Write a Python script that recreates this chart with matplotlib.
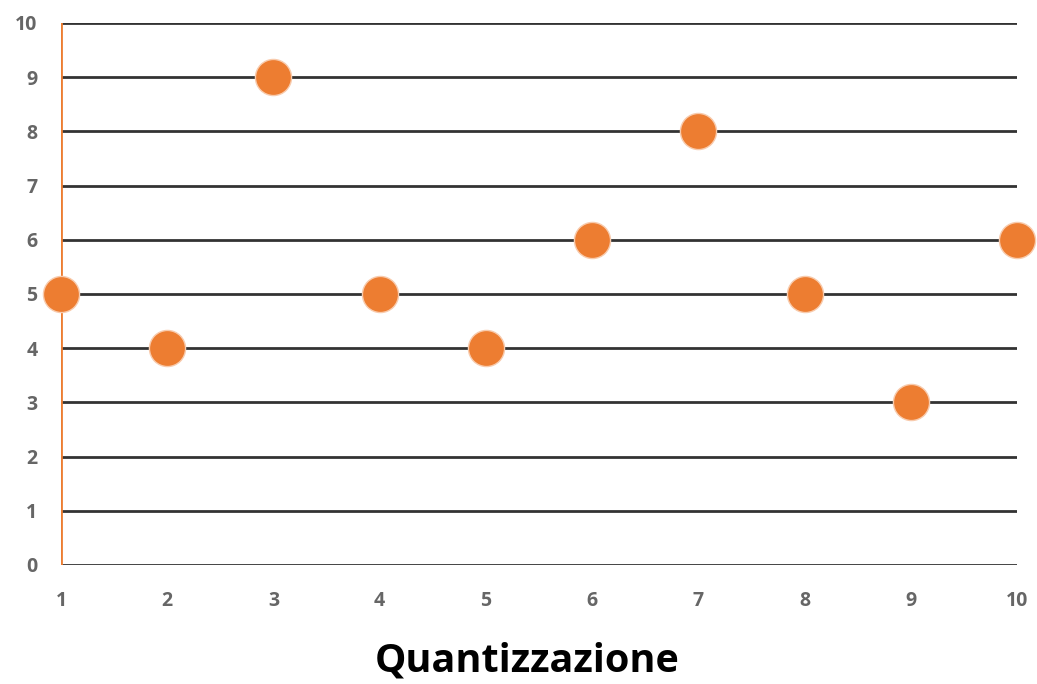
import matplotlib.pyplot as plt

x_vals = [1, 2, 3, 4, 5, 6, 7, 8, 9, 10]
y_vals = [5, 4, 9, 5, 4, 6, 8, 5, 3, 6]
y_ticks = list(range(0, 11))
title = "Quantizzazione"

plt.rcParams['font.family'] = ['Open Sans', 'DejaVu Sans']

fig = plt.figure(figsize=(10.37, 6.84), dpi=100)
ax = fig.add_axes([0.0588, 0.174, 0.9219, 0.7924])

for y in y_ticks:
    ax.axhline(y, color="#333333", lw=2.0, zorder=1)

ax.axvline(1, color="#ED7D31", lw=2.0, zorder=2)

ax.plot(x_vals, y_vals, "o", ms=26, color="#ED7D31", mec="#F8CBAD", mew=1.0,
        zorder=3, clip_on=False)

ax.set_xlim(1, 10)
ax.set_ylim(0, 10)
ax.set_xticks(x_vals)
ax.set_yticks(y_ticks)
for s in ax.spines.values():
    s.set_visible(False)
ax.tick_params(length=0, labelsize=14, labelcolor="#666666", pad=19)
ax.tick_params(axis="y", pad=17)
for lbl in ax.get_xticklabels() + ax.get_yticklabels():
    lbl.set_fontweight("bold")

fig.text(0.508, 0.018, title, ha="center", va="baseline", fontsize=28.5,
         fontweight="bold", color="black")

fig.savefig("out.png", dpi=100)
